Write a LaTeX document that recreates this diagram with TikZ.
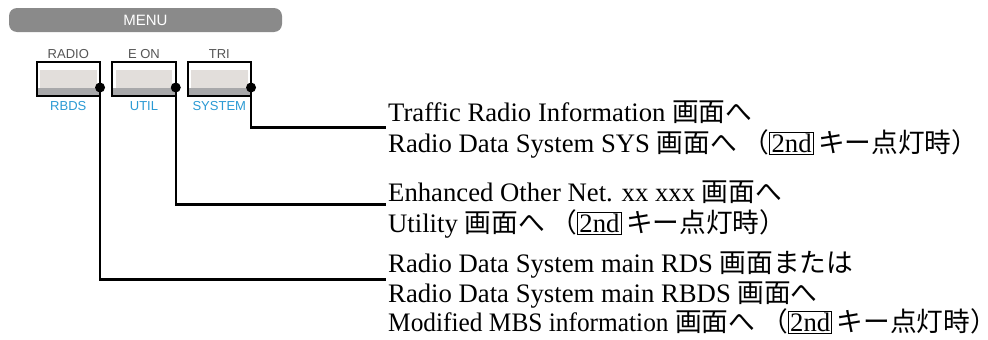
\documentclass[tikz,border=0pt]{standalone}
\usepackage{fontspec}
\usepackage{graphicx}
\setmainfont{Liberation Serif}
\newfontfamily\jp{Noto Sans CJK JP}
\newfontfamily\arialf{Liberation Sans}
\definecolor{menugray}{HTML}{8A8A8A}
\definecolor{labgray}{HTML}{555555}
\definecolor{keyblue}{HTML}{2A9AD4}
\definecolor{padgray}{HTML}{E2DEDB}
\definecolor{lipgray}{HTML}{A8A8AA}
\newcommand{\keybox}[1]{{\setlength{\fboxsep}{1.2pt}\setlength{\fboxrule}{0.9pt}\fbox{#1}}}
\newcommand{\scr}[1]{{\jp #1}}
\begin{document}
\begin{tikzpicture}[x=1pt,y=-1pt,
  desc/.style={anchor=base west, inner sep=0pt, font=\fontsize{26.7}{30}\selectfont},
  toplabel/.style={font=\arialf\fontsize{13}{15}\selectfont, text=labgray, inner sep=0pt},
  botlabel/.style={font=\arialf\fontsize{13}{15}\selectfont, text=keyblue, inner sep=0pt},
  keybtn/.style={draw=black, line width=2pt, minimum width=63.5pt, minimum height=33.4pt, inner sep=0pt, outer sep=0pt},
  wire/.style={line width=2.4pt, black},
  jdot/.style={circle, fill=black, inner sep=0pt, minimum size=10pt}]
\useasboundingbox[fill=white] (0,0) rectangle (988,340);

% menu bar
\node[fill=menugray, rounded corners=8pt, minimum width=273pt, minimum height=24pt,
      inner sep=0pt, text=white, font=\arialf\fontsize{15}{17}\selectfont] (menu) at (145.5,20) {MENU};

% buttons
\foreach \n/\cx/\top/\bot in {b1/68.3/RADIO/RBDS, b2/144/E ON/UTIL, b3/219.3/TRI/SYSTEM}{
  \fill[padgray] (\cx-28.3,70) rectangle (\cx+28.3,88.3);
  \fill[lipgray] (\cx-31,88.3) rectangle (\cx+31,95);
  \node[keybtn] (\n) at (\cx,79) {};
  \node[toplabel] (\n top) at ([yshift=24.7pt]\n.center) {\top};
  \node[botlabel] (\n bot) at ([yshift=-27.4pt]\n.center) {\bot};
  \node[jdot] (\n dot) at ([yshift=-8.5pt]\n.east) {};
}

% descriptions
\node[desc] (g1a) at (388,121)   {Traffic Radio Information \scr{画面へ}};
\node[desc] (g1b) at (388,152.7) {Radio Data System SYS \scr{画面へ （}\keybox{2nd}\,\scr{キー点灯時）}};
\node[desc] (g2a) at (388,201)   {Enhanced Other Net. xx xxx \scr{画面へ}};
\node[desc] (g2b) at (388,232.7) {Utility \scr{画面へ （}\keybox{2nd}\,\scr{キー点灯時）}};
\node[desc] (g3a) at (388,272.5) {Radio Data System main RDS \scr{画面または}};
\node[desc] (g3b) at (388,302)   {Radio Data System main RBDS \scr{画面へ}};
\node[desc] (g3c) at (388,331.2) {\scalebox{0.95}[1]{Modified MBS information} \scr{画面へ （}\keybox{2nd}\,\scr{キー点灯時）}\hspace{-12pt}};

% connectors
\draw[wire] (b3dot.center) |- ([shift={(-2pt,-6.3pt)}]g1a.base west);
\draw[wire] (b2dot.center) |- ([shift={(-2pt,-3.3pt)}]g2a.base west);
\draw[wire] (b1dot.center) |- ([shift={(-2pt,-6.8pt)}]g3a.base west);
\end{tikzpicture}
\end{document}
